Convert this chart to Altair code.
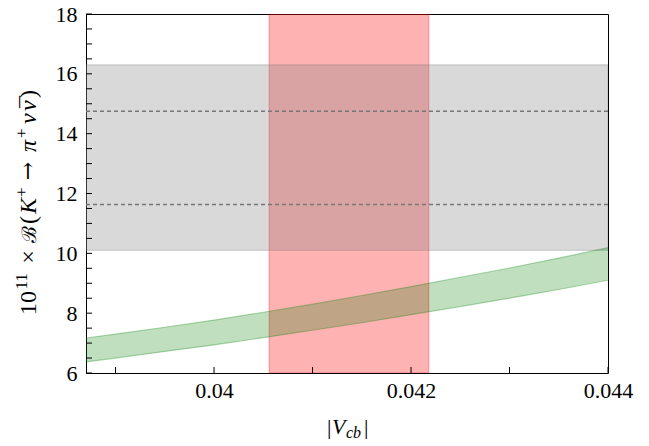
import altair as alt
import pandas as pd

# ---- data ----
vcb = [0.0387, 0.0390, 0.0395, 0.0400, 0.0405, 0.0410, 0.0415, 0.0420, 0.0425, 0.0430, 0.0435, 0.0440]
br_low = [6.37, 6.50, 6.72, 6.94, 7.18, 7.43, 7.68, 7.95, 8.22, 8.50, 8.79, 9.10]
br_high = [7.17, 7.30, 7.53, 7.77, 8.03, 8.30, 8.59, 8.89, 9.20, 9.51, 9.84, 10.19]

exp_band = [10.1, 16.3]          # grey experimental band
exp_dashed = [11.63, 14.75]      # dashed lines
vcb_band = [0.04056, 0.04218]    # red |Vcb| band

x_domain = [0.0387, 0.0440]
y_domain = [6, 18]

x_labels = [0.040, 0.042, 0.044]
x_ticks = [0.039, 0.040, 0.041, 0.042, 0.043, 0.044]
y_labels = [6, 8, 10, 12, 14, 16, 18]
y_ticks = [6.0, 6.5, 7.0, 7.5, 8.0, 8.5, 9.0, 9.5, 10.0, 10.5, 11.0, 11.5, 12.0,
           12.5, 13.0, 13.5, 14.0, 14.5, 15.0, 15.5, 16.0, 16.5, 17.0, 17.5, 18.0]

W, H = 522, 359
FONT = "Liberation Serif"

xs = alt.Scale(domain=x_domain, nice=False, zero=False)
ys = alt.Scale(domain=y_domain, nice=False, zero=False)
xa = alt.Axis(values=x_labels, format=".3~f", title=None, labelPadding=7)
ya = alt.Axis(values=y_labels, title=None, labelPadding=9)

def X(f):
    return alt.X(f, scale=xs, axis=xa)

def Y(f):
    return alt.Y(f, scale=ys, axis=ya)

band_df = pd.DataFrame({"vcb": vcb, "lo": br_low, "hi": br_high})

red = alt.Chart(pd.DataFrame({"x1": [vcb_band[0]], "x2": [vcb_band[1]],
                              "y1": [y_domain[0]], "y2": [y_domain[1]]})).mark_rect(
    fill="red", fillOpacity=0.3, stroke="red", strokeOpacity=0.3, strokeWidth=1.2, clip=True
).encode(x=X("x1:Q"), x2="x2:Q", y=Y("y1:Q"), y2="y2:Q")

grey = alt.Chart(pd.DataFrame({"x1": [x_domain[0]], "x2": [x_domain[1]],
                               "y1": [exp_band[0]], "y2": [exp_band[1]]})).mark_rect(
    fill="gray", fillOpacity=0.3, stroke="gray", strokeOpacity=0.3, strokeWidth=1.2, clip=True
).encode(x=X("x1:Q"), x2="x2:Q", y=Y("y1:Q"), y2="y2:Q")

dashed = alt.Chart(pd.DataFrame({"y": exp_dashed})).mark_rule(
    color="#777777", strokeWidth=1.4, strokeDash=[4, 3]
).encode(y=Y("y:Q"))

green_area = alt.Chart(band_df).mark_area(
    fill="green", fillOpacity=0.25, clip=True
).encode(x=X("vcb:Q"), y=Y("lo:Q"), y2="hi:Q")

green_lo = alt.Chart(band_df).mark_line(
    color="green", strokeOpacity=0.3, strokeWidth=1.2, clip=True
).encode(x=X("vcb:Q"), y=Y("lo:Q"))

green_hi = alt.Chart(band_df).mark_line(
    color="green", strokeOpacity=0.3, strokeWidth=1.2, clip=True
).encode(x=X("vcb:Q"), y=Y("hi:Q"))

# inward ticks
yt = alt.Chart(pd.DataFrame({"t": y_ticks})).mark_rule(color="black", strokeWidth=1).encode(
    y=Y("t:Q"), x=alt.value(0), x2=alt.value(6))
xt = alt.Chart(pd.DataFrame({"t": x_ticks})).mark_rule(color="black", strokeWidth=1).encode(
    x=X("t:Q"), y=alt.value(H), y2=alt.value(H - 6))

# ---- axis titles built from text pieces (sub/superscripts) ----
one = pd.DataFrame({"a": [0]})
def txt(s, x, y, size=22, style="normal", angle=0, align="left", font=FONT):
    return alt.Chart(one).mark_text(
        text=s, font=font, fontSize=size, fontStyle=style, align=align,
        baseline="alphabetic", color="black", angle=angle
    ).encode(x=alt.value(x), y=alt.value(y))

# x title: |V_cb|
x_title = [
    txt("|", 241, 420),
    txt("V", 246, 420, style="italic"),
    txt("cb", 260, 424, size=16, style="italic"),
    txt("|", 278, 420),
]

# y title: 10^11 x B(K+ -> pi+ nu nubar), rotated
BX, SX = -50, -59      # baseline / superscript baseline
M, S = 24, 17          # main / superscript size
R = 270
y_title = [
    txt("10", BX, 301, M, angle=R),
    txt("11", SX, 275.5, S, angle=R),
    txt("×", BX, 243, M, angle=R, align="center"),
    txt("ℬ", BX, 229, 20, angle=R, font="DejaVu Serif"),
    txt("(", BX, 210, M, angle=R),
    txt("K", BX, 200, M, style="italic", angle=R),
    txt("+", SX, 183, S, angle=R),
    txt("→", BX - 1, 157, 22, angle=R, align="center", font="DejaVu Serif"),
    txt("π", BX, 138, M, style="italic", angle=R),
    txt("+", SX, 124, S, angle=R),
    txt("ν", BX, 110, M, style="italic", angle=R),
    txt("ν", BX, 97, M, style="italic", angle=R),
    txt("¯", BX + 1, 94, M, angle=R),
    txt(")", BX, 84, M, angle=R),
]

chart = alt.layer(red, grey, dashed, green_area, green_lo, green_hi, yt, xt,
                  *x_title, *y_title).properties(
    width=W, height=H,
    autosize="none",
    padding={"left": 86, "top": 14, "right": 41, "bottom": 73},
).configure_view(
    stroke="black", strokeWidth=1
).configure_axis(
    grid=False, domain=False, ticks=False, labelFlush=False,
    labelFont=FONT, labelFontSize=22, labelColor="black",
)

chart.save("out.html", embed_options={"renderer": "svg", "actions": False})
